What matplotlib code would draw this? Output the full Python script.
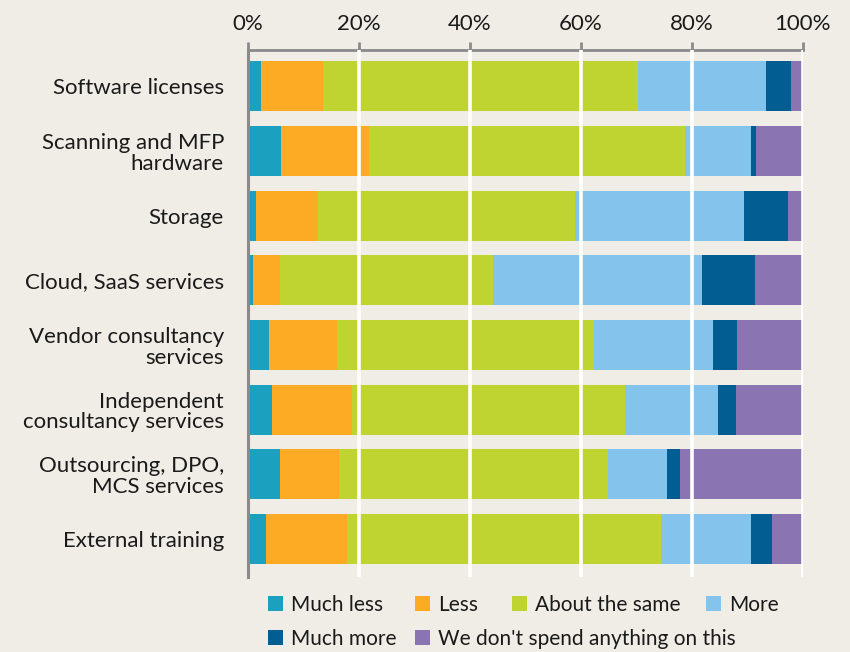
import matplotlib.pyplot as plt
from matplotlib.patches import Patch

plt.rcParams['font.family'] = ['Lato', 'DejaVu Sans']

categories = ['Software licenses', 'Scanning and MFP\nhardware', 'Storage',
              'Cloud, SaaS services', 'Vendor consultancy\nservices',
              'Independent\nconsultancy services', 'Outsourcing, DPO,\nMCS services',
              'External training']

much_less = [2.4, 6.0, 1.5, 1.0, 3.9, 4.4, 5.9, 3.3]
less      = [11.2, 15.9, 11.2, 4.9, 12.2, 14.4, 10.6, 14.7]
same      = [56.7, 56.9, 46.3, 38.3, 46.3, 49.2, 48.4, 56.5]
more      = [23.1, 11.9, 30.5, 37.7, 21.5, 16.8, 10.7, 16.2]
much_more = [4.5, 0.9, 7.9, 9.5, 4.3, 3.2, 2.3, 3.8]
nothing   = [2.1, 8.4, 2.6, 8.6, 11.8, 12.0, 22.1, 5.5]

series = [much_less, less, same, more, much_more, nothing]
names = ['Much less', 'Less', 'About the same', 'More', 'Much more',
         "We don't spend anything on this"]
colors = ['#1ba0c0', '#fdaa25', '#bfd431', '#83c3ec', '#025e92', '#8a74b2']
ticks = [0, 20, 40, 60, 80, 100]

bg = '#efede6'
fig = plt.figure(figsize=(8.5, 6.52), dpi=100, facecolor=bg)
ax = fig.add_axes([0.2912, 0.115, 0.653, 0.808], facecolor=bg)

y = range(len(categories))
left = [0] * len(categories)
for vals, c in zip(series, colors):
    ax.barh(y, vals, left=left, height=0.773, color=c, zorder=2)
    left = [a + b for a, b in zip(left, vals)]

ax.set_xlim(0, 100)
ax.set_ylim(7.59, -0.56)
ax.set_yticks(list(y))
ax.set_yticklabels(categories, fontsize=16, color='#1a1a1a', ha='right',
                   multialignment='right', linespacing=1.05)
ax.tick_params(axis='y', length=0, pad=17)
ax.xaxis.tick_top()
ax.set_xticks(ticks)
ax.set_xticklabels([f'{t}%' for t in ticks], fontsize=16, color='#1a1a1a')
ax.tick_params(axis='x', direction='out', length=6, width=2, color='#8a8a8a', pad=6)
for t in ticks[1:]:
    ax.axvline(t, color='white', lw=2.6, zorder=3)

for s in ['right', 'bottom']:
    ax.spines[s].set_visible(False)
ax.spines['top'].set_color('#8a8a8a')
ax.spines['top'].set_linewidth(2)
ax.spines['left'].set_color('#8a8a8a')
ax.spines['left'].set_linewidth(2.2)
ax.spines['left'].set_zorder(4)

# legend: Excel-like layout, two rows
leg_x = [268, 415, 512, 706, 268, 415]
leg_y = [605, 605, 605, 605, 639, 639]
for c, n, lx, ly in zip(colors, names, leg_x, leg_y):
    leg = fig.legend(handles=[Patch(facecolor=c, label=n)], loc='center left',
                     bbox_to_anchor=(lx / 850, 1 - ly / 652), frameon=False, fontsize=15,
                     handlelength=0.7, handleheight=0.7, handletextpad=0.4,
                     borderaxespad=0, borderpad=0)
    for txt in leg.get_texts():
        txt.set_color('#1a1a1a')

fig.savefig('out.png', dpi=100, facecolor=bg)
